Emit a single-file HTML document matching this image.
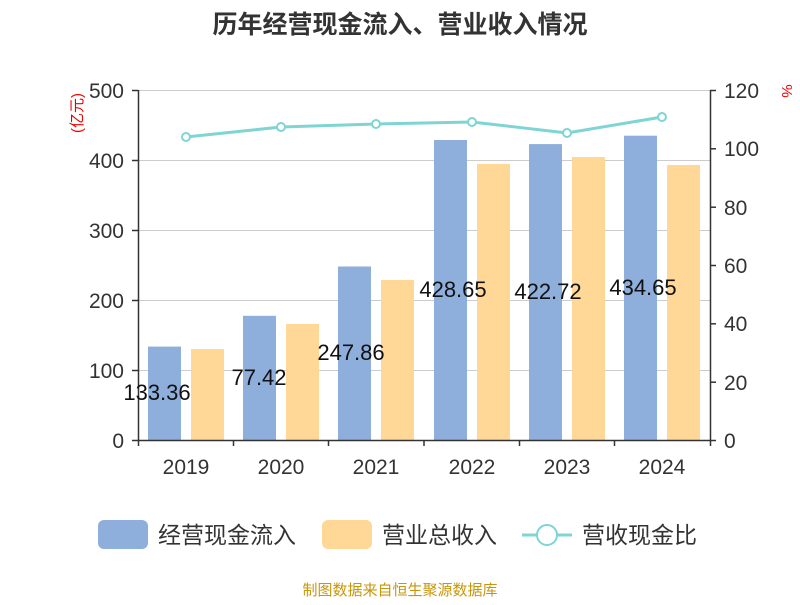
<!DOCTYPE html>
<html><head><meta charset="utf-8"><style>
body{margin:0;background:#fff;}
svg text{font-family:"Liberation Sans","Noto Sans CJK SC",sans-serif;}
</style></head><body>
<svg width="800" height="600" xmlns="http://www.w3.org/2000/svg">
<rect width="800" height="600" fill="#fff"/>
<text x="400" y="33" text-anchor="middle" font-size="25" font-weight="bold" fill="#333">历年经营现金流入、营业收入情况</text>
<g stroke="#ccc" stroke-width="1">
<line x1="138" y1="90.5" x2="710" y2="90.5"/>
<line x1="138" y1="160.5" x2="710" y2="160.5"/>
<line x1="138" y1="230.5" x2="710" y2="230.5"/>
<line x1="138" y1="300.5" x2="710" y2="300.5"/>
<line x1="138" y1="370.5" x2="710" y2="370.5"/>
</g>
<g fill="#8eaedb">
<rect x="148" y="346.6" width="33" height="93.4"/>
<rect x="243" y="315.8" width="33" height="124.2"/>
<rect x="338" y="266.5" width="33" height="173.5"/>
<rect x="434" y="140" width="33" height="300"/>
<rect x="529" y="144.1" width="33" height="295.9"/>
<rect x="624" y="135.7" width="33" height="304.3"/>
</g>
<g fill="#ffd897">
<rect x="191" y="349" width="33" height="91"/>
<rect x="286" y="324" width="33" height="116"/>
<rect x="381" y="280" width="33" height="160"/>
<rect x="477" y="164" width="33" height="276"/>
<rect x="572" y="157" width="33" height="283"/>
<rect x="667" y="165" width="33" height="275"/>
</g>
<g stroke="#333" stroke-width="1.5" fill="none">
<line x1="138.5" y1="90" x2="138.5" y2="446"/>
<line x1="710.5" y1="90" x2="710.5" y2="446"/>
<line x1="132" y1="440.5" x2="716" y2="440.5"/>
<line x1="132" y1="90.5" x2="138" y2="90.5"/><line x1="132" y1="160.5" x2="138" y2="160.5"/><line x1="132" y1="230.5" x2="138" y2="230.5"/><line x1="132" y1="300.5" x2="138" y2="300.5"/><line x1="132" y1="370.5" x2="138" y2="370.5"/>
<line x1="710" y1="90.5" x2="716" y2="90.5"/><line x1="710" y1="148.8" x2="716" y2="148.8"/><line x1="710" y1="207.2" x2="716" y2="207.2"/><line x1="710" y1="265.5" x2="716" y2="265.5"/><line x1="710" y1="323.8" x2="716" y2="323.8"/><line x1="710" y1="382.2" x2="716" y2="382.2"/>
<line x1="233.5" y1="440" x2="233.5" y2="446"/><line x1="328.5" y1="440" x2="328.5" y2="446"/><line x1="424" y1="440" x2="424" y2="446"/><line x1="519.5" y1="440" x2="519.5" y2="446"/><line x1="614.5" y1="440" x2="614.5" y2="446"/>
</g>
<g font-size="21" fill="#333" text-anchor="end">
<text x="124" y="98">500</text><text x="124" y="168">400</text><text x="124" y="238">300</text><text x="124" y="308">200</text><text x="124" y="378">100</text><text x="124" y="448">0</text>
</g>
<g font-size="21" fill="#333" text-anchor="start">
<text x="724" y="98">120</text><text x="724" y="156">100</text><text x="724" y="215">80</text><text x="724" y="273">60</text><text x="724" y="331">40</text><text x="724" y="390">20</text><text x="724" y="448">0</text>
</g>
<g font-size="21" fill="#333" text-anchor="middle">
<text x="186" y="474">2019</text><text x="281" y="474">2020</text><text x="376" y="474">2021</text><text x="472" y="474">2022</text><text x="567" y="474">2023</text><text x="662" y="474">2024</text>
</g>
<text transform="translate(82,113) rotate(-90)" font-size="15" fill="#e00" text-anchor="middle">(亿元)</text>
<text transform="translate(782,91) rotate(90)" font-size="15" fill="#e00" text-anchor="middle">%</text>
<g font-size="22" fill="#111" text-anchor="middle">
<text x="157" y="400">133.36</text><text x="259" y="385">77.42</text><text x="351" y="360">247.86</text><text x="453" y="297">428.65</text><text x="548" y="299">422.72</text><text x="643" y="295">434.65</text>
</g>
<polyline points="186,137 281,127 376,124 472,122 567,133 662,117" fill="none" stroke="#7fd4d4" stroke-width="3"/>
<g fill="#fff" stroke="#7fd4d4" stroke-width="2">
<circle cx="186" cy="137" r="4"/><circle cx="281" cy="127" r="4"/><circle cx="376" cy="124" r="4"/><circle cx="472" cy="122" r="4"/><circle cx="567" cy="133" r="4"/><circle cx="662" cy="117" r="4"/>
</g>
<rect x="98" y="520" width="50" height="29" rx="6" fill="#8eaedb"/>
<text x="158" y="543" font-size="23" fill="#333">经营现金流入</text>
<rect x="322" y="520" width="50" height="29" rx="6" fill="#ffd897"/>
<text x="382" y="543" font-size="23" fill="#333">营业总收入</text>
<line x1="522" y1="535" x2="572" y2="535" stroke="#7fd4d4" stroke-width="3"/>
<circle cx="547" cy="535" r="10" fill="#fff" stroke="#7fd4d4" stroke-width="2"/>
<text x="582" y="543" font-size="23" fill="#333">营收现金比</text>
<text x="400" y="595" font-size="15" fill="#c8960a" text-anchor="middle">制图数据来自恒生聚源数据库</text>
</svg>
</body></html>
